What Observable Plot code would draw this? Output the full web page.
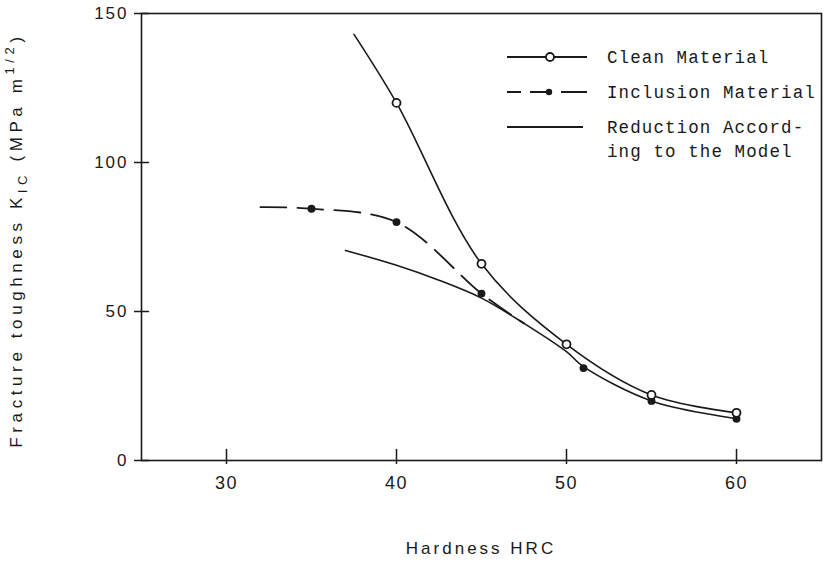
<!DOCTYPE html>
<html>
<head>
<meta charset="utf-8">
<script src="https://cdn.jsdelivr.net/npm/d3@7"></script>
<script src="https://cdn.jsdelivr.net/npm/@observablehq/plot@0.6"></script>
<style>
  html, body { margin: 0; padding: 0; background: #fff; }
  #chart svg { display: block; }
  #chart svg [aria-label="y-axis tick label"] text { letter-spacing: 2px; }
  #chart svg [aria-label="x-axis tick label"] text { letter-spacing: 1.5px; }
</style>
</head>
<body>
<div id="chart"></div>
<script>
// ---- data ----
const hrcTicks = [30, 40, 50, 60];
const kTicks = [0, 50, 100, 150];

// Clean material: curve trace and measured points
const cleanCurveHRC = [37.5, 40, 45, 50, 55, 60];
const cleanCurveK   = [143, 120, 66, 39, 22, 16];
const cleanPointHRC = [40, 45, 50, 55, 60];
const cleanPointK   = [120, 66, 39, 22, 16];

// Inclusion material: dashed curve trace (until it joins the model curve) and points
const inclDashHRC  = [32, 35, 40, 45, 47.5];
const inclDashK    = [85, 84.5, 80, 56, 46];
const inclPointHRC = [35, 40, 45, 51, 55, 60];
const inclPointK   = [84.5, 80, 56, 31, 20, 14];

// Reduction according to the model
const modelHRC = [37, 40, 42.5, 45, 47.5, 50, 51, 55, 60];
const modelK   = [70.5, 65.5, 60.5, 54.5, 46, 36.5, 31.5, 20, 14];

const legendLabels = ["Clean Material", "Inclusion Material", "Reduction Accord-", "ing to the Model"];

// ---- tables ----
const zip = (xs, ys) => xs.map((x, i) => ({x, y: ys[i]}));
const cleanCurve = zip(cleanCurveHRC, cleanCurveK);
const cleanPts = zip(cleanPointHRC, cleanPointK);
const inclDash = zip(inclDashHRC, inclDashK);
const inclPts = zip(inclPointHRC, inclPointK);
const model = zip(modelHRC, modelK);

const ink = "#1a1a1a";
const lineShape = {draw(context, l) { context.moveTo(0, 0); context.lineTo(0, -l); }};

const plot = Plot.plot({
  width: 828,
  height: 565,
  marginLeft: 141,
  marginRight: 7,
  marginTop: 13,
  marginBottom: 105,
  style: {fontFamily: "Liberation Sans, Arial, sans-serif", fontSize: "17px", color: ink, background: "#fff"},
  x: {domain: [25, 65]},
  y: {domain: [0, 150]},
  marks: [
    Plot.frame({stroke: ink, strokeWidth: 1.6}),
    Plot.axisX(hrcTicks, {tickSize: 4, tickPadding: 12, fontSize: 18, stroke: ink, strokeWidth: 1.5, label: null}),
    Plot.axisY(kTicks, {tickSize: 7, tickPadding: 6, fontSize: 17, stroke: ink, strokeWidth: 1.5, label: null}),
    Plot.vector(hrcTicks, {x: d => d, y: 0, length: 11, rotate: 0, anchor: "start", shape: lineShape, stroke: ink, strokeWidth: 1.5}),
    Plot.vector(kTicks, {x: 25, y: d => d, length: 7, rotate: 90, anchor: "start", shape: lineShape, stroke: ink, strokeWidth: 1.5}),
    Plot.line(model, {x: "x", y: "y", curve: "catmull-rom", stroke: ink, strokeWidth: 1.6}),
    Plot.line(inclDash, {x: "x", y: "y", curve: "catmull-rom", stroke: ink, strokeWidth: 1.8, strokeDasharray: "26,11"}),
    Plot.line(cleanCurve, {x: "x", y: "y", curve: "catmull-rom", stroke: ink, strokeWidth: 1.6}),
    Plot.dot(inclPts, {x: "x", y: "y", r: 3.2, fill: ink, stroke: ink}),
    Plot.dot(cleanPts, {x: "x", y: "y", r: 4, fill: "#fff", stroke: ink, strokeWidth: 1.8})
  ]
});

document.getElementById("chart").appendChild(plot);

// ---- axis titles and legend ----
const svg = d3.select(plot);

const yl = svg.append("text")
  .attr("transform", "translate(22,240) rotate(-90)")
  .attr("text-anchor", "middle")
  .attr("fill", ink)
  .style("font-family", "Liberation Sans, Arial, sans-serif")
  .style("font-size", "17px")
  .style("letter-spacing", "4.6px");
yl.append("tspan").text("Fracture toughness K");
yl.append("tspan").attr("dy", 5).style("font-size", "13px").text("IC");
yl.append("tspan").attr("dy", -5).text(" (MPa m");
yl.append("tspan").attr("dy", -8).style("font-size", "13px").text("1/2");
yl.append("tspan").attr("dy", 8).text(")");

svg.append("text")
  .attr("x", 481).attr("y", 554)
  .attr("text-anchor", "middle")
  .attr("fill", ink)
  .style("font-family", "Liberation Sans, Arial, sans-serif")
  .style("font-size", "17px")
  .style("letter-spacing", "3px")
  .text("Hardness HRC");

const lg = svg.append("g").attr("fill", ink)
  .attr("text-anchor", "start")
  .style("font-family", "Liberation Mono, DejaVu Sans Mono, monospace")
  .style("font-size", "17.5px")
  .style("letter-spacing", "1.1px");
const rowY = [57, 92, 127, 151];
// clean sample
lg.append("line").attr("x1", 507).attr("x2", 587).attr("y1", rowY[0]).attr("y2", rowY[0]).attr("stroke", ink).attr("stroke-width", 1.8);
lg.append("circle").attr("cx", 550).attr("cy", rowY[0]).attr("r", 4).attr("fill", "#fff").attr("stroke", ink).attr("stroke-width", 1.8);
// inclusion sample
lg.append("line").attr("x1", 507).attr("x2", 587).attr("y1", rowY[1]).attr("y2", rowY[1]).attr("stroke", ink).attr("stroke-width", 1.8).attr("stroke-dasharray", "14,9,22,9,26");
lg.append("circle").attr("cx", 549).attr("cy", rowY[1]).attr("r", 3.2).attr("fill", ink);
// model sample
lg.append("line").attr("x1", 507).attr("x2", 583).attr("y1", rowY[2]).attr("y2", rowY[2]).attr("stroke", ink).attr("stroke-width", 1.8);
legendLabels.forEach((t, i) => {
  lg.append("text").attr("x", 607).attr("y", rowY[i]).attr("dy", "0.35em").attr("text-anchor", "start").text(t);
});
</script>
</body>
</html>
